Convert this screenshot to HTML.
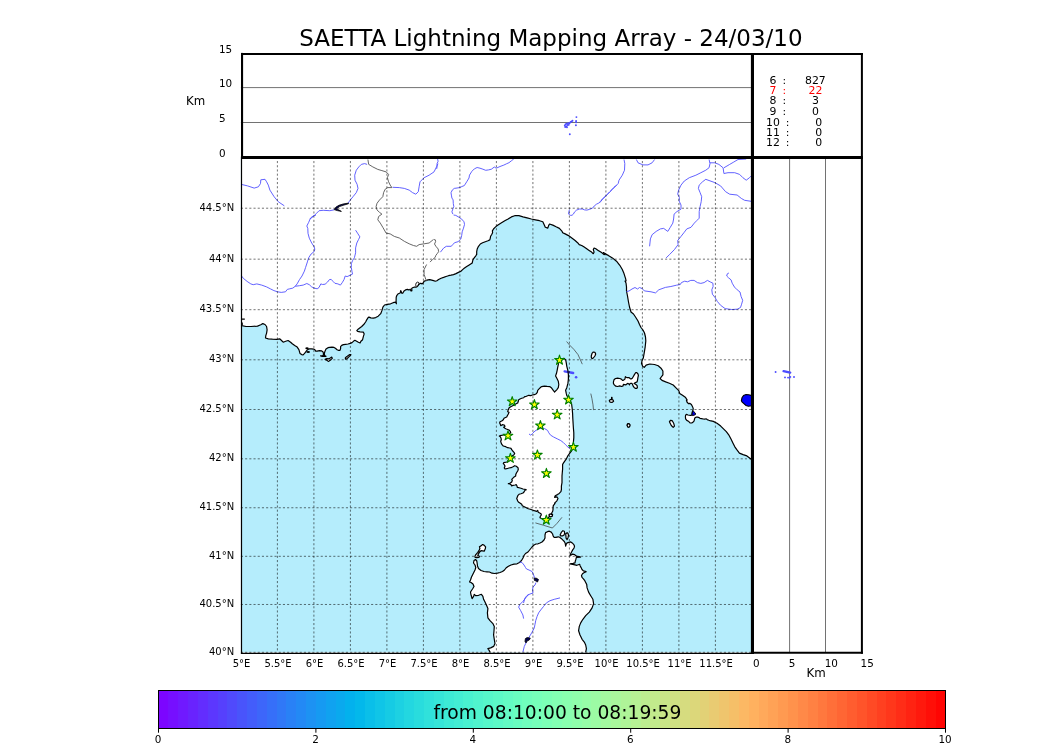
<!DOCTYPE html><html><head><meta charset='utf-8'><style>html,body{margin:0;padding:0;background:#fff;width:1050px;height:750px;overflow:hidden}svg{display:block;will-change:transform}text{font-family:'DejaVu Sans', 'Liberation Sans', sans-serif}</style></head><body>
<svg width='1050' height='750' viewBox='0 0 1050 750'>
<rect width='1050' height='750' fill='#fff'/>
<text x='299.3' y='45.7' font-size='23' fill='#000'>SAETTA Lightning Mapping Array - 24/03/10</text>
<line x1='240.9' x2='752.0' y1='122.50' y2='122.50' stroke='#727272' stroke-width='1'/>
<line x1='240.9' x2='752.0' y1='87.60' y2='87.60' stroke='#727272' stroke-width='1'/>
<text x='219.0' y='157.2' font-size='10.4'>0</text>
<text x='219.0' y='122.3' font-size='10.4'>5</text>
<text x='219.0' y='87.4' font-size='10.4'>10</text>
<text x='219.0' y='52.5' font-size='10.4'>15</text>
<text x='186' y='104.9' font-size='11.8'>Km</text>
<rect x='240.90' y='156.81' width='511.10' height='495.49' fill='#b5edfc'/>
<defs><clipPath id='mc'><rect x='240.90' y='156.81' width='511.10' height='495.49'/></clipPath></defs>
<g clip-path='url(#mc)'>
<path d='M237.9 325.1 L241.0 325.1 L241.8 325.6 L246.0 326.5 L250.9 326.5 L257.5 326.1 L260.8 324.8 L262.8 323.6 L265.0 324.5 L266.6 326.5 L267.1 329.8 L266.6 333.1 L265.8 335.6 L265.5 338.0 L268.3 338.9 L272.4 339.2 L276.6 339.4 L279.9 338.9 L281.5 340.5 L283.2 342.2 L285.7 341.3 L288.1 340.5 L290.6 342.2 L292.3 343.8 L294.7 345.5 L297.2 347.1 L298.9 349.6 L300.0 353.4 L301.7 354.6 L303.1 354.9 L304.3 353.7 L305.4 352.3 L306.3 351.1 L306.9 350.3 L308.0 349.4 L309.1 348.9 L311.4 348.9 L313.7 349.1 L315.1 350.0 L315.7 351.1 L317.1 351.1 L319.4 350.6 L321.7 350.9 L322.9 351.7 L323.4 353.1 L323.5 355.1 L322.6 355.5 L320.6 355.9 L321.7 356.3 L324.0 356.3 L326.0 356.3 L324.6 355.4 L324.3 353.7 L324.9 351.4 L326.0 349.1 L328.0 347.7 L329.7 347.4 L332.0 347.1 L334.0 347.4 L335.4 348.3 L337.1 349.7 L338.3 350.3 L340.0 350.3 L340.6 348.6 L340.6 346.6 L341.7 345.4 L343.4 344.6 L345.7 344.3 L348.0 344.0 L350.3 343.4 L352.0 342.6 L353.7 341.1 L354.9 340.3 L358.4 342.2 L360.1 343.0 L360.9 341.3 L362.6 339.7 L363.4 336.4 L364.2 333.9 L363.4 332.2 L360.1 331.8 L357.6 331.4 L356.8 330.6 L358.4 328.9 L361.7 326.5 L364.2 324.0 L365.9 321.5 L366.7 319.8 L368.3 317.4 L369.0 317.1 L370.8 317.9 L373.3 318.2 L375.7 317.6 L378.2 316.2 L380.7 313.7 L382.0 310.4 L382.9 307.1 L384.5 305.0 L387.3 304.3 L390.6 303.8 L393.1 302.7 L395.6 302.2 L396.4 303.8 L396.1 301.3 L396.2 297.2 L396.9 295.3 L398.3 293.7 L400.2 293.0 L400.7 290.6 L401.4 292.0 L401.9 293.4 L402.9 293.0 L404.0 291.0 L405.5 289.9 L407.4 289.4 L408.8 289.9 L409.8 289.6 L410.2 289.2 L411.0 291.0 L411.9 290.8 L411.7 288.4 L412.6 287.7 L414.0 287.2 L416.0 287.2 L416.9 286.8 L417.9 285.8 L418.8 284.4 L420.2 283.4 L421.2 283.4 L422.1 283.9 L423.1 283.0 L423.6 282.0 L424.5 281.0 L426.0 280.6 L427.9 279.9 L429.8 279.6 L431.7 280.1 L433.6 280.6 L435.3 281.2 L436.9 280.7 L438.6 279.5 L441.1 278.2 L443.6 277.4 L446.0 276.5 L448.5 275.7 L451.0 275.2 L453.5 274.6 L456.0 273.6 L458.4 272.4 L460.9 271.2 L462.6 269.6 L464.2 268.3 L466.7 266.6 L469.2 265.0 L472.2 263.0 L472.6 261.2 L473.1 259.4 L474.4 257.6 L475.8 255.8 L476.7 254.4 L476.7 251.7 L477.2 249.0 L478.5 246.3 L480.3 244.0 L482.6 242.8 L485.3 241.7 L488.0 240.8 L489.8 239.9 L490.3 238.1 L490.6 236.3 L491.7 234.5 L492.6 232.7 L492.4 230.9 L493.5 229.0 L494.8 227.7 L496.2 226.3 L498.0 225.0 L501.5 222.8 L504.8 220.7 L508.1 219.0 L511.4 216.9 L514.7 215.7 L518.9 215.7 L523.0 216.9 L527.1 217.9 L531.3 219.0 L535.4 219.8 L539.5 220.7 L542.8 221.8 L544.2 224.8 L545.3 227.3 L547.8 228.1 L548.6 225.6 L549.5 224.0 L552.8 225.1 L556.1 226.8 L559.4 228.4 L561.9 231.1 L562.7 232.7 L565.2 233.9 L568.5 235.6 L571.8 238.0 L575.1 240.5 L577.6 242.7 L579.2 244.6 L581.7 245.5 L584.2 247.1 L586.7 248.8 L589.1 250.4 L591.6 252.1 L593.3 253.7 L594.1 252.1 L593.3 249.6 L594.1 248.0 L595.8 248.8 L598.2 250.4 L601.6 252.6 L604.0 254.6 L605.7 253.7 L603.3 252.6 L605.0 253.7 L608.3 255.4 L612.4 257.9 L616.5 261.2 L619.8 265.3 L622.3 269.5 L624.0 273.6 L625.6 278.6 L626.1 281.0 L625.0 281.0 L626.0 283.0 L626.5 287.0 L626.5 291.0 L627.5 296.0 L628.5 302.0 L629.5 307.0 L631.0 312.0 L633.5 314.0 L635.5 317.0 L638.0 321.0 L639.5 324.5 L641.0 327.5 L643.0 330.0 L644.5 333.0 L645.5 337.0 L645.8 341.0 L645.2 346.8 L644.3 352.4 L643.3 358.0 L642.0 360.8 L641.5 363.6 L642.8 366.4 L644.3 367.3 L646.1 365.1 L649.8 364.0 L654.5 364.5 L658.2 365.8 L661.0 368.2 L662.9 371.0 L662.9 374.8 L660.1 378.5 L662.0 380.4 L665.7 381.9 L669.4 383.2 L673.2 385.0 L676.0 387.8 L678.8 390.6 L679.7 393.4 L682.5 395.3 L685.3 397.2 L687.2 400.0 L686.4 400.0 L687.0 402.0 L688.4 403.6 L690.0 403.4 L691.4 404.4 L692.4 406.4 L693.2 408.4 L693.0 410.0 L692.4 411.6 L692.0 413.6 L691.8 415.2 L690.4 415.4 L688.0 415.0 L686.4 414.4 L685.6 415.2 L685.4 416.8 L685.6 418.8 L686.8 420.4 L688.4 421.2 L690.0 422.8 L691.6 423.0 L692.8 422.4 L694.0 421.2 L694.4 419.6 L694.8 418.0 L696.0 417.2 L697.6 417.2 L699.2 417.6 L700.0 418.4 L701.6 418.6 L703.2 419.0 L704.8 419.2 L706.0 418.8 L707.2 419.6 L708.8 420.2 L710.0 420.6 L713.3 421.4 L717.0 423.3 L720.7 426.1 L723.5 428.9 L726.3 431.7 L729.1 435.4 L731.0 439.1 L732.9 442.9 L734.7 446.6 L736.6 449.4 L739.4 453.1 L743.1 454.6 L746.9 455.9 L750.6 458.7 L754.3 461.5 L755.0 461.5 L755.0 153.8 L237.9 153.8Z' fill='#fff' stroke='none'/>
<path d='M613.4 382.2 L614.0 379.8 L615.5 378.5 L617.6 378.2 L619.8 378.5 L621.3 379.1 L622.5 380.4 L623.7 380.1 L624.9 379.1 L625.4 376.7 L626.2 377.3 L627.1 377.6 L628.9 377.6 L630.1 378.5 L631.0 379.1 L632.3 378.2 L633.2 376.7 L634.4 374.6 L635.6 372.7 L636.8 372.7 L638.0 374.0 L638.4 375.5 L637.9 377.6 L637.6 379.8 L637.1 381.9 L635.0 382.8 L634.1 383.4 L635.6 384.3 L637.1 385.5 L637.4 387.4 L636.8 388.3 L635.3 388.3 L634.1 387.4 L633.2 386.2 L632.6 384.6 L632.0 383.4 L630.7 383.4 L629.8 383.7 L629.5 384.9 L628.9 384.0 L628.0 383.4 L626.8 384.0 L625.9 384.9 L624.6 384.6 L623.4 384.3 L623.1 385.9 L621.6 386.5 L619.8 385.9 L617.6 386.5 L615.8 386.2 L614.3 384.9 L613.5 383.7ZM591.3 356.0 L592.0 353.3 L593.3 352.0 L594.9 352.3 L595.7 354.0 L594.9 356.0 L593.3 358.0 L592.0 358.7 L591.3 357.3ZM609.3 400.7 L610.4 399.5 L611.5 399.6 L611.6 397.3 L612.0 397.3 L612.1 399.6 L613.1 400.0 L613.6 401.3 L612.0 402.4 L610.0 402.1ZM626.9 425.3 L627.6 423.7 L629.1 423.6 L630.1 424.9 L629.6 426.9 L628.0 427.3ZM669.4 421.8 L670.4 420.3 L672.2 420.7 L673.7 423.3 L674.5 426.1 L673.2 427.4 L671.3 425.5ZM627.1 425.5 L627.8 423.8 L629.3 423.8 L630.1 425.5 L629.3 427.0 L627.8 427.0ZM325.1 359.4 L326.9 358.6 L328.6 358.9 L330.3 358.0 L331.7 357.1 L332.3 358.3 L330.9 359.7 L329.1 360.9 L328.3 361.4 L326.9 360.3 L325.7 359.7ZM345.4 359.1 L345.4 357.7 L346.9 356.6 L348.3 355.4 L349.7 354.6 L350.9 354.6 L350.6 355.4 L349.1 356.6 L347.7 358.0 L346.3 359.1ZM564.1 358.3 L560.9 358.9 L558.8 362.1 L558.3 364.7 L557.7 367.4 L557.2 370.1 L556.5 373.3 L555.6 375.9 L556.7 378.1 L558.3 381.3 L558.8 384.5 L558.3 387.7 L556.7 389.8 L554.5 392.0 L552.9 389.8 L551.3 387.7 L549.7 386.6 L547.1 386.4 L544.4 386.1 L541.7 386.6 L541.0 387.0 L539.3 388.7 L537.7 390.3 L537.3 392.3 L536.3 393.7 L534.3 394.7 L532.3 395.0 L530.7 395.7 L528.7 395.3 L527.7 395.7 L526.3 396.3 L524.7 396.7 L523.7 397.7 L521.7 398.3 L520.0 399.0 L518.7 399.7 L518.3 401.3 L517.7 403.0 L515.7 404.0 L513.7 405.3 L511.7 406.3 L510.3 407.0 L509.0 408.0 L508.3 409.7 L507.7 411.7 L509.0 412.3 L508.3 414.0 L507.3 415.7 L506.7 417.0 L505.0 417.7 L504.0 418.3 L503.3 419.7 L501.7 421.0 L500.0 421.7 L499.7 423.0 L500.3 424.3 L500.7 425.7 L502.3 424.7 L504.3 425.0 L505.0 426.3 L503.7 427.3 L505.0 428.3 L506.3 429.0 L509.0 430.0 L510.3 431.3 L510.7 432.7 L508.3 434.3 L503.7 435.0 L500.0 435.7 L499.3 436.0 L500.3 436.7 L501.0 438.0 L501.3 439.7 L500.7 441.3 L501.3 443.3 L502.0 444.7 L503.3 446.0 L505.7 446.7 L507.7 447.7 L509.7 448.0 L511.0 448.3 L511.7 449.7 L512.7 451.0 L514.0 452.3 L514.7 453.7 L513.7 455.0 L512.0 456.0 L509.3 459.3 L507.0 462.0 L503.7 462.7 L503.3 463.7 L504.3 464.7 L505.0 466.0 L504.3 468.0 L505.0 469.0 L506.7 468.7 L509.0 468.0 L511.0 467.7 L513.0 466.7 L514.7 465.7 L516.3 466.3 L518.0 467.7 L518.3 469.3 L517.7 471.0 L517.0 472.0 L516.3 473.3 L515.7 474.7 L515.7 476.0 L513.7 477.3 L512.7 478.3 L511.7 479.3 L512.3 480.3 L511.7 482.0 L510.3 483.0 L508.3 483.7 L510.0 484.0 L511.3 485.0 L511.7 486.0 L513.0 485.3 L515.0 485.0 L516.3 484.7 L517.0 486.0 L517.3 487.3 L519.0 487.7 L521.0 488.3 L523.0 489.0 L525.0 489.3 L526.3 489.7 L525.0 490.3 L524.0 492.0 L523.0 493.0 L521.0 493.7 L519.0 494.3 L518.0 495.3 L517.3 497.0 L516.7 498.7 L517.3 499.7 L517.7 501.0 L518.7 502.3 L520.3 503.3 L521.7 504.3 L522.3 505.7 L524.3 506.7 L526.3 507.7 L528.3 508.7 L530.3 509.3 L532.3 510.0 L534.3 510.7 L536.7 511.3 L537.7 510.3 L538.3 512.3 L539.7 513.0 L541.0 513.7 L541.3 515.0 L540.3 516.3 L540.0 517.7 L541.0 518.3 L542.3 518.7 L544.3 519.7 L546.3 519.3 L548.3 517.7 L549.3 516.7 L549.0 514.7 L550.3 514.0 L552.0 514.7 L551.7 513.0 L552.7 511.3 L553.0 509.7 L553.0 507.7 L553.3 505.7 L554.3 504.3 L555.0 503.3 L554.6 503.1 L556.9 500.8 L558.0 498.5 L556.9 496.8 L554.6 497.4 L555.2 495.7 L557.5 494.6 L559.2 493.4 L560.9 491.7 L561.4 489.5 L561.4 486.1 L562.0 482.7 L562.0 479.3 L562.0 475.9 L562.3 472.5 L562.6 469.1 L562.6 464.5 L563.2 463.4 L564.4 461.6 L566.2 459.2 L568.0 455.6 L569.8 453.2 L571.6 450.8 L572.8 447.2 L573.4 442.4 L573.8 437.6 L573.8 432.8 L573.4 428.0 L573.1 423.2 L572.8 418.4 L572.6 413.6 L572.2 408.8 L571.6 404.0 L570.4 401.0 L568.6 398.0 L566.8 395.6 L566.2 393.2 L565.6 390.2 L566.8 387.7 L567.9 383.4 L568.4 379.1 L568.4 374.9 L567.9 370.6 L566.8 366.3 L566.3 363.1 L565.7 359.9ZM490.0 653.6 L490.0 652.1 L489.3 650.7 L487.9 648.6 L490.7 647.9 L493.6 646.4 L495.0 643.6 L494.3 639.3 L493.6 635.0 L494.0 630.7 L494.3 626.4 L492.9 623.6 L490.0 620.7 L487.9 617.9 L487.4 612.9 L487.9 608.6 L486.4 605.0 L485.0 602.1 L483.6 599.3 L482.9 596.4 L481.4 594.3 L478.6 595.3 L475.7 595.7 L474.3 594.3 L473.6 596.4 L472.1 598.6 L471.1 595.0 L471.0 595.0 L470.5 592.0 L472.5 589.0 L474.0 586.5 L473.0 584.0 L471.0 582.5 L469.5 582.0 L470.5 580.0 L471.5 577.0 L473.0 574.0 L475.0 570.0 L475.8 567.5 L475.0 565.0 L473.5 563.0 L474.0 560.5 L475.5 559.5 L476.8 561.0 L477.2 563.5 L477.5 566.0 L478.5 568.5 L481.0 570.5 L484.0 571.5 L487.0 571.8 L489.5 572.0 L492.0 573.2 L494.5 573.5 L497.5 573.2 L500.0 572.5 L502.5 571.5 L504.5 570.0 L506.0 568.0 L508.0 566.5 L511.0 565.0 L514.0 564.2 L517.0 563.8 L519.5 562.5 L521.5 560.5 L523.0 558.0 L524.0 555.5 L525.5 553.5 L528.0 552.0 L530.0 549.5 L532.0 547.0 L534.0 545.0 L536.0 544.0 L538.0 543.8 L540.0 543.0 L542.0 542.0 L544.0 540.0 L545.0 538.0 L545.0 535.0 L545.6 532.6 L547.5 531.7 L549.3 531.2 L551.2 532.1 L552.6 534.0 L553.1 535.9 L554.0 537.3 L555.9 537.3 L558.2 536.8 L559.6 537.3 L561.5 538.7 L562.9 540.1 L564.3 541.5 L565.2 543.3 L565.7 546.1 L566.1 544.3 L567.1 542.9 L568.9 542.4 L570.8 541.9 L572.2 542.9 L573.6 544.3 L574.5 546.1 L574.1 548.0 L572.7 549.9 L571.7 551.7 L570.8 553.6 L569.9 555.5 L571.3 555.0 L572.7 554.1 L574.5 554.5 L575.9 555.9 L577.3 556.4 L579.2 556.6 L580.6 557.1 L576.4 557.3 L575.9 559.2 L575.3 561.1 L575.0 562.9 L573.1 563.4 L569.9 563.9 L572.7 564.3 L575.0 564.8 L576.9 565.3 L578.3 564.8 L579.7 564.3 L580.1 565.7 L581.1 567.6 L582.0 569.5 L583.4 570.9 L585.3 571.3 L586.2 571.8 L583.9 572.7 L582.5 573.7 L581.5 575.5 L582.0 577.4 L583.4 578.8 L584.8 580.7 L585.7 582.5 L586.7 584.4 L587.1 587.9 L588.6 592.1 L590.7 595.7 L592.9 599.3 L593.6 603.6 L592.1 607.9 L589.3 612.1 L585.7 615.7 L582.9 619.3 L580.7 622.9 L579.3 626.4 L578.6 630.7 L580.0 635.0 L582.1 639.3 L584.3 642.1 L585.7 645.0 L586.4 648.6 L585.7 652.1 L585.7 653.6 L585.7 657.3 L490.0 657.3ZM474.9 556.6 L475.4 555.2 L476.5 553.9 L477.8 552.3 L479.1 550.4 L479.9 548.5 L479.4 546.7 L481.0 545.9 L482.6 544.5 L484.0 545.1 L485.6 546.9 L485.3 548.8 L484.2 551.2 L482.6 550.9 L481.0 550.7 L479.9 551.7 L478.6 553.6 L477.8 555.5 L479.4 556.3 L478.9 557.4 L476.7 557.6 L475.1 557.4ZM560.1 534.9 L561.5 532.1 L562.9 530.7 L564.3 531.2 L564.7 533.1 L564.1 534.9 L562.4 535.9 L560.5 535.9ZM565.7 534.0 L567.1 532.6 L568.0 533.5 L568.5 535.4 L568.0 537.7 L567.1 539.6 L566.1 538.2 L565.9 535.9ZM549.2 514.3 L551.0 513.8 L552.6 514.6 L552.2 516.4 L550.2 516.9 L549.2 515.8Z' fill='#fff' stroke='none'/>
<path d='M564.6 371.3 L573.2 373.0' stroke='#4c4cff' stroke-width='2.3' stroke-linecap='round' fill='none'/>
<circle cx='576.1' cy='377.3' r='1.3' fill='#4c4cff'/>
<path d='M613.4 382.2 L614.0 379.8 L615.5 378.5 L617.6 378.2 L619.8 378.5 L621.3 379.1 L622.5 380.4 L623.7 380.1 L624.9 379.1 L625.4 376.7 L626.2 377.3 L627.1 377.6 L628.9 377.6 L630.1 378.5 L631.0 379.1 L632.3 378.2 L633.2 376.7 L634.4 374.6 L635.6 372.7 L636.8 372.7 L638.0 374.0 L638.4 375.5 L637.9 377.6 L637.6 379.8 L637.1 381.9 L635.0 382.8 L634.1 383.4 L635.6 384.3 L637.1 385.5 L637.4 387.4 L636.8 388.3 L635.3 388.3 L634.1 387.4 L633.2 386.2 L632.6 384.6 L632.0 383.4 L630.7 383.4 L629.8 383.7 L629.5 384.9 L628.9 384.0 L628.0 383.4 L626.8 384.0 L625.9 384.9 L624.6 384.6 L623.4 384.3 L623.1 385.9 L621.6 386.5 L619.8 385.9 L617.6 386.5 L615.8 386.2 L614.3 384.9 L613.5 383.7ZM591.3 356.0 L592.0 353.3 L593.3 352.0 L594.9 352.3 L595.7 354.0 L594.9 356.0 L593.3 358.0 L592.0 358.7 L591.3 357.3ZM609.3 400.7 L610.4 399.5 L611.5 399.6 L611.6 397.3 L612.0 397.3 L612.1 399.6 L613.1 400.0 L613.6 401.3 L612.0 402.4 L610.0 402.1ZM626.9 425.3 L627.6 423.7 L629.1 423.6 L630.1 424.9 L629.6 426.9 L628.0 427.3ZM669.4 421.8 L670.4 420.3 L672.2 420.7 L673.7 423.3 L674.5 426.1 L673.2 427.4 L671.3 425.5ZM627.1 425.5 L627.8 423.8 L629.3 423.8 L630.1 425.5 L629.3 427.0 L627.8 427.0ZM325.1 359.4 L326.9 358.6 L328.6 358.9 L330.3 358.0 L331.7 357.1 L332.3 358.3 L330.9 359.7 L329.1 360.9 L328.3 361.4 L326.9 360.3 L325.7 359.7ZM345.4 359.1 L345.4 357.7 L346.9 356.6 L348.3 355.4 L349.7 354.6 L350.9 354.6 L350.6 355.4 L349.1 356.6 L347.7 358.0 L346.3 359.1ZM564.1 358.3 L560.9 358.9 L558.8 362.1 L558.3 364.7 L557.7 367.4 L557.2 370.1 L556.5 373.3 L555.6 375.9 L556.7 378.1 L558.3 381.3 L558.8 384.5 L558.3 387.7 L556.7 389.8 L554.5 392.0 L552.9 389.8 L551.3 387.7 L549.7 386.6 L547.1 386.4 L544.4 386.1 L541.7 386.6 L541.0 387.0 L539.3 388.7 L537.7 390.3 L537.3 392.3 L536.3 393.7 L534.3 394.7 L532.3 395.0 L530.7 395.7 L528.7 395.3 L527.7 395.7 L526.3 396.3 L524.7 396.7 L523.7 397.7 L521.7 398.3 L520.0 399.0 L518.7 399.7 L518.3 401.3 L517.7 403.0 L515.7 404.0 L513.7 405.3 L511.7 406.3 L510.3 407.0 L509.0 408.0 L508.3 409.7 L507.7 411.7 L509.0 412.3 L508.3 414.0 L507.3 415.7 L506.7 417.0 L505.0 417.7 L504.0 418.3 L503.3 419.7 L501.7 421.0 L500.0 421.7 L499.7 423.0 L500.3 424.3 L500.7 425.7 L502.3 424.7 L504.3 425.0 L505.0 426.3 L503.7 427.3 L505.0 428.3 L506.3 429.0 L509.0 430.0 L510.3 431.3 L510.7 432.7 L508.3 434.3 L503.7 435.0 L500.0 435.7 L499.3 436.0 L500.3 436.7 L501.0 438.0 L501.3 439.7 L500.7 441.3 L501.3 443.3 L502.0 444.7 L503.3 446.0 L505.7 446.7 L507.7 447.7 L509.7 448.0 L511.0 448.3 L511.7 449.7 L512.7 451.0 L514.0 452.3 L514.7 453.7 L513.7 455.0 L512.0 456.0 L509.3 459.3 L507.0 462.0 L503.7 462.7 L503.3 463.7 L504.3 464.7 L505.0 466.0 L504.3 468.0 L505.0 469.0 L506.7 468.7 L509.0 468.0 L511.0 467.7 L513.0 466.7 L514.7 465.7 L516.3 466.3 L518.0 467.7 L518.3 469.3 L517.7 471.0 L517.0 472.0 L516.3 473.3 L515.7 474.7 L515.7 476.0 L513.7 477.3 L512.7 478.3 L511.7 479.3 L512.3 480.3 L511.7 482.0 L510.3 483.0 L508.3 483.7 L510.0 484.0 L511.3 485.0 L511.7 486.0 L513.0 485.3 L515.0 485.0 L516.3 484.7 L517.0 486.0 L517.3 487.3 L519.0 487.7 L521.0 488.3 L523.0 489.0 L525.0 489.3 L526.3 489.7 L525.0 490.3 L524.0 492.0 L523.0 493.0 L521.0 493.7 L519.0 494.3 L518.0 495.3 L517.3 497.0 L516.7 498.7 L517.3 499.7 L517.7 501.0 L518.7 502.3 L520.3 503.3 L521.7 504.3 L522.3 505.7 L524.3 506.7 L526.3 507.7 L528.3 508.7 L530.3 509.3 L532.3 510.0 L534.3 510.7 L536.7 511.3 L537.7 510.3 L538.3 512.3 L539.7 513.0 L541.0 513.7 L541.3 515.0 L540.3 516.3 L540.0 517.7 L541.0 518.3 L542.3 518.7 L544.3 519.7 L546.3 519.3 L548.3 517.7 L549.3 516.7 L549.0 514.7 L550.3 514.0 L552.0 514.7 L551.7 513.0 L552.7 511.3 L553.0 509.7 L553.0 507.7 L553.3 505.7 L554.3 504.3 L555.0 503.3 L554.6 503.1 L556.9 500.8 L558.0 498.5 L556.9 496.8 L554.6 497.4 L555.2 495.7 L557.5 494.6 L559.2 493.4 L560.9 491.7 L561.4 489.5 L561.4 486.1 L562.0 482.7 L562.0 479.3 L562.0 475.9 L562.3 472.5 L562.6 469.1 L562.6 464.5 L563.2 463.4 L564.4 461.6 L566.2 459.2 L568.0 455.6 L569.8 453.2 L571.6 450.8 L572.8 447.2 L573.4 442.4 L573.8 437.6 L573.8 432.8 L573.4 428.0 L573.1 423.2 L572.8 418.4 L572.6 413.6 L572.2 408.8 L571.6 404.0 L570.4 401.0 L568.6 398.0 L566.8 395.6 L566.2 393.2 L565.6 390.2 L566.8 387.7 L567.9 383.4 L568.4 379.1 L568.4 374.9 L567.9 370.6 L566.8 366.3 L566.3 363.1 L565.7 359.9ZM490.0 653.6 L490.0 652.1 L489.3 650.7 L487.9 648.6 L490.7 647.9 L493.6 646.4 L495.0 643.6 L494.3 639.3 L493.6 635.0 L494.0 630.7 L494.3 626.4 L492.9 623.6 L490.0 620.7 L487.9 617.9 L487.4 612.9 L487.9 608.6 L486.4 605.0 L485.0 602.1 L483.6 599.3 L482.9 596.4 L481.4 594.3 L478.6 595.3 L475.7 595.7 L474.3 594.3 L473.6 596.4 L472.1 598.6 L471.1 595.0 L471.0 595.0 L470.5 592.0 L472.5 589.0 L474.0 586.5 L473.0 584.0 L471.0 582.5 L469.5 582.0 L470.5 580.0 L471.5 577.0 L473.0 574.0 L475.0 570.0 L475.8 567.5 L475.0 565.0 L473.5 563.0 L474.0 560.5 L475.5 559.5 L476.8 561.0 L477.2 563.5 L477.5 566.0 L478.5 568.5 L481.0 570.5 L484.0 571.5 L487.0 571.8 L489.5 572.0 L492.0 573.2 L494.5 573.5 L497.5 573.2 L500.0 572.5 L502.5 571.5 L504.5 570.0 L506.0 568.0 L508.0 566.5 L511.0 565.0 L514.0 564.2 L517.0 563.8 L519.5 562.5 L521.5 560.5 L523.0 558.0 L524.0 555.5 L525.5 553.5 L528.0 552.0 L530.0 549.5 L532.0 547.0 L534.0 545.0 L536.0 544.0 L538.0 543.8 L540.0 543.0 L542.0 542.0 L544.0 540.0 L545.0 538.0 L545.0 535.0 L545.6 532.6 L547.5 531.7 L549.3 531.2 L551.2 532.1 L552.6 534.0 L553.1 535.9 L554.0 537.3 L555.9 537.3 L558.2 536.8 L559.6 537.3 L561.5 538.7 L562.9 540.1 L564.3 541.5 L565.2 543.3 L565.7 546.1 L566.1 544.3 L567.1 542.9 L568.9 542.4 L570.8 541.9 L572.2 542.9 L573.6 544.3 L574.5 546.1 L574.1 548.0 L572.7 549.9 L571.7 551.7 L570.8 553.6 L569.9 555.5 L571.3 555.0 L572.7 554.1 L574.5 554.5 L575.9 555.9 L577.3 556.4 L579.2 556.6 L580.6 557.1 L576.4 557.3 L575.9 559.2 L575.3 561.1 L575.0 562.9 L573.1 563.4 L569.9 563.9 L572.7 564.3 L575.0 564.8 L576.9 565.3 L578.3 564.8 L579.7 564.3 L580.1 565.7 L581.1 567.6 L582.0 569.5 L583.4 570.9 L585.3 571.3 L586.2 571.8 L583.9 572.7 L582.5 573.7 L581.5 575.5 L582.0 577.4 L583.4 578.8 L584.8 580.7 L585.7 582.5 L586.7 584.4 L587.1 587.9 L588.6 592.1 L590.7 595.7 L592.9 599.3 L593.6 603.6 L592.1 607.9 L589.3 612.1 L585.7 615.7 L582.9 619.3 L580.7 622.9 L579.3 626.4 L578.6 630.7 L580.0 635.0 L582.1 639.3 L584.3 642.1 L585.7 645.0 L586.4 648.6 L585.7 652.1 L585.7 653.6 L585.7 657.3 L490.0 657.3ZM474.9 556.6 L475.4 555.2 L476.5 553.9 L477.8 552.3 L479.1 550.4 L479.9 548.5 L479.4 546.7 L481.0 545.9 L482.6 544.5 L484.0 545.1 L485.6 546.9 L485.3 548.8 L484.2 551.2 L482.6 550.9 L481.0 550.7 L479.9 551.7 L478.6 553.6 L477.8 555.5 L479.4 556.3 L478.9 557.4 L476.7 557.6 L475.1 557.4ZM560.1 534.9 L561.5 532.1 L562.9 530.7 L564.3 531.2 L564.7 533.1 L564.1 534.9 L562.4 535.9 L560.5 535.9ZM565.7 534.0 L567.1 532.6 L568.0 533.5 L568.5 535.4 L568.0 537.7 L567.1 539.6 L566.1 538.2 L565.9 535.9ZM549.2 514.3 L551.0 513.8 L552.6 514.6 L552.2 516.4 L550.2 516.9 L549.2 515.8Z' fill='none' stroke='#000' stroke-width='1.2' stroke-linejoin='round'/>
<path d='M241.0 325.1 L241.8 325.6 L246.0 326.5 L250.9 326.5 L257.5 326.1 L260.8 324.8 L262.8 323.6 L265.0 324.5 L266.6 326.5 L267.1 329.8 L266.6 333.1 L265.8 335.6 L265.5 338.0 L268.3 338.9 L272.4 339.2 L276.6 339.4 L279.9 338.9 L281.5 340.5 L283.2 342.2 L285.7 341.3 L288.1 340.5 L290.6 342.2 L292.3 343.8 L294.7 345.5 L297.2 347.1 L298.9 349.6 L300.0 353.4 L301.7 354.6 L303.1 354.9 L304.3 353.7 L305.4 352.3 L306.3 351.1 L306.9 350.3 L308.0 349.4 L309.1 348.9 L311.4 348.9 L313.7 349.1 L315.1 350.0 L315.7 351.1 L317.1 351.1 L319.4 350.6 L321.7 350.9 L322.9 351.7 L323.4 353.1 L323.5 355.1 L322.6 355.5 L320.6 355.9 L321.7 356.3 L324.0 356.3 L326.0 356.3 L324.6 355.4 L324.3 353.7 L324.9 351.4 L326.0 349.1 L328.0 347.7 L329.7 347.4 L332.0 347.1 L334.0 347.4 L335.4 348.3 L337.1 349.7 L338.3 350.3 L340.0 350.3 L340.6 348.6 L340.6 346.6 L341.7 345.4 L343.4 344.6 L345.7 344.3 L348.0 344.0 L350.3 343.4 L352.0 342.6 L353.7 341.1 L354.9 340.3 L358.4 342.2 L360.1 343.0 L360.9 341.3 L362.6 339.7 L363.4 336.4 L364.2 333.9 L363.4 332.2 L360.1 331.8 L357.6 331.4 L356.8 330.6 L358.4 328.9 L361.7 326.5 L364.2 324.0 L365.9 321.5 L366.7 319.8 L368.3 317.4 L369.0 317.1 L370.8 317.9 L373.3 318.2 L375.7 317.6 L378.2 316.2 L380.7 313.7 L382.0 310.4 L382.9 307.1 L384.5 305.0 L387.3 304.3 L390.6 303.8 L393.1 302.7 L395.6 302.2 L396.4 303.8 L396.1 301.3 L396.2 297.2 L396.9 295.3 L398.3 293.7 L400.2 293.0 L400.7 290.6 L401.4 292.0 L401.9 293.4 L402.9 293.0 L404.0 291.0 L405.5 289.9 L407.4 289.4 L408.8 289.9 L409.8 289.6 L410.2 289.2 L411.0 291.0 L411.9 290.8 L411.7 288.4 L412.6 287.7 L414.0 287.2 L416.0 287.2 L416.9 286.8 L417.9 285.8 L418.8 284.4 L420.2 283.4 L421.2 283.4 L422.1 283.9 L423.1 283.0 L423.6 282.0 L424.5 281.0 L426.0 280.6 L427.9 279.9 L429.8 279.6 L431.7 280.1 L433.6 280.6 L435.3 281.2 L436.9 280.7 L438.6 279.5 L441.1 278.2 L443.6 277.4 L446.0 276.5 L448.5 275.7 L451.0 275.2 L453.5 274.6 L456.0 273.6 L458.4 272.4 L460.9 271.2 L462.6 269.6 L464.2 268.3 L466.7 266.6 L469.2 265.0 L472.2 263.0 L472.6 261.2 L473.1 259.4 L474.4 257.6 L475.8 255.8 L476.7 254.4 L476.7 251.7 L477.2 249.0 L478.5 246.3 L480.3 244.0 L482.6 242.8 L485.3 241.7 L488.0 240.8 L489.8 239.9 L490.3 238.1 L490.6 236.3 L491.7 234.5 L492.6 232.7 L492.4 230.9 L493.5 229.0 L494.8 227.7 L496.2 226.3 L498.0 225.0 L501.5 222.8 L504.8 220.7 L508.1 219.0 L511.4 216.9 L514.7 215.7 L518.9 215.7 L523.0 216.9 L527.1 217.9 L531.3 219.0 L535.4 219.8 L539.5 220.7 L542.8 221.8 L544.2 224.8 L545.3 227.3 L547.8 228.1 L548.6 225.6 L549.5 224.0 L552.8 225.1 L556.1 226.8 L559.4 228.4 L561.9 231.1 L562.7 232.7 L565.2 233.9 L568.5 235.6 L571.8 238.0 L575.1 240.5 L577.6 242.7 L579.2 244.6 L581.7 245.5 L584.2 247.1 L586.7 248.8 L589.1 250.4 L591.6 252.1 L593.3 253.7 L594.1 252.1 L593.3 249.6 L594.1 248.0 L595.8 248.8 L598.2 250.4 L601.6 252.6 L604.0 254.6 L605.7 253.7 L603.3 252.6 L605.0 253.7 L608.3 255.4 L612.4 257.9 L616.5 261.2 L619.8 265.3 L622.3 269.5 L624.0 273.6 L625.6 278.6 L626.1 281.0 L625.0 281.0 L626.0 283.0 L626.5 287.0 L626.5 291.0 L627.5 296.0 L628.5 302.0 L629.5 307.0 L631.0 312.0 L633.5 314.0 L635.5 317.0 L638.0 321.0 L639.5 324.5 L641.0 327.5 L643.0 330.0 L644.5 333.0 L645.5 337.0 L645.8 341.0 L645.2 346.8 L644.3 352.4 L643.3 358.0 L642.0 360.8 L641.5 363.6 L642.8 366.4 L644.3 367.3 L646.1 365.1 L649.8 364.0 L654.5 364.5 L658.2 365.8 L661.0 368.2 L662.9 371.0 L662.9 374.8 L660.1 378.5 L662.0 380.4 L665.7 381.9 L669.4 383.2 L673.2 385.0 L676.0 387.8 L678.8 390.6 L679.7 393.4 L682.5 395.3 L685.3 397.2 L687.2 400.0 L686.4 400.0 L687.0 402.0 L688.4 403.6 L690.0 403.4 L691.4 404.4 L692.4 406.4 L693.2 408.4 L693.0 410.0 L692.4 411.6 L692.0 413.6 L691.8 415.2 L690.4 415.4 L688.0 415.0 L686.4 414.4 L685.6 415.2 L685.4 416.8 L685.6 418.8 L686.8 420.4 L688.4 421.2 L690.0 422.8 L691.6 423.0 L692.8 422.4 L694.0 421.2 L694.4 419.6 L694.8 418.0 L696.0 417.2 L697.6 417.2 L699.2 417.6 L700.0 418.4 L701.6 418.6 L703.2 419.0 L704.8 419.2 L706.0 418.8 L707.2 419.6 L708.8 420.2 L710.0 420.6 L713.3 421.4 L717.0 423.3 L720.7 426.1 L723.5 428.9 L726.3 431.7 L729.1 435.4 L731.0 439.1 L732.9 442.9 L734.7 446.6 L736.6 449.4 L739.4 453.1 L743.1 454.6 L746.9 455.9 L750.6 458.7 L754.3 461.5' fill='none' stroke='#000' stroke-width='1.2' stroke-linejoin='round'/>
<path d='M241.0 184.3 L247.6 185.9 L254.2 188.1 L258.4 186.8 L260.5 183.5 L260.8 179.8 L265.0 179.3 L266.6 181.8 L268.3 185.1 L269.9 190.1 L274.1 196.7 L278.2 201.7 L284.3 205.8M453.6 215.0 L455.8 215.4 L459.0 217.3 L461.7 219.1 L464.0 221.8 L464.5 224.5 L463.5 228.1 L462.2 231.8 L461.7 235.4 L460.8 239.0 L458.1 241.7 L454.9 242.6 L452.7 244.5 L451.3 246.3 L446.3 246.3 L443.6 248.1 L440.4 252.2M624.0 159.5 L624.8 163.6 L624.5 170.2 L622.3 175.2 L619.0 180.2 L618.2 183.5 L614.9 186.8 L609.9 191.7 L605.0 196.7 L600.0 201.7M636.4 159.5 L638.0 162.8 L643.0 164.9 L648.0 164.9 L652.1 162.8 L654.6 159.5M709.1 159.5 L710.0 163.6 L709.1 167.7 L705.8 170.2 L700.9 172.7 L695.9 175.2 L689.3 177.7 L684.3 181.0 L681.0 185.1 L678.6 190.1 L677.7 194.2 L679.4 197.5 L679.0 200.8 L681.0 205.0 L681.0 209.1 L676.9 211.6 L674.1 214.1 L673.6 219.0 L672.8 223.1 L670.3 227.3 L667.8 231.4 L663.7 228.4 L660.4 228.9 L656.2 231.4 L652.1 234.7 L650.4 238.9 L649.6 246.3M705.8 179.3 L702.5 181.8 L699.2 185.1 L698.4 188.4 L700.1 192.6 L701.7 196.7 L701.2 201.7 L700.1 206.6 L699.2 211.6 L699.2 218.2 L696.7 220.7 L694.3 223.1 L691.0 227.3 L686.8 228.9 L684.3 232.2 L681.0 236.4 L677.7 240.5 L678.1 244.6 L674.4 249.6 L669.5 254.6 L666.1 257.9M709.8 162.8 L714.8 162.8 L718.9 164.4 L723.1 167.8 L723.9 173.5 L728.0 172.7 L734.7 172.7 L739.6 174.4 L742.9 177.7 L746.2 180.2 L749.5 177.7 L751.2 176.0M723.9 167.8 L729.7 164.4 L733.8 162.0 L738.0 159.5 L746.2 159.0M705.7 179.3 L714.8 182.6 L720.6 185.9 L725.6 191.7 L729.7 194.2 L737.1 195.0 L741.3 198.4 L744.6 200.3 L751.2 201.3M367.1 164.4 L364.6 163.6 L361.3 164.4 L358.8 166.9 L356.3 170.2 L354.7 175.2 L355.0 180.2 L357.1 184.3 L358.0 188.4 L356.3 192.6 L353.0 196.7 L349.7 200.8 L348.0 203.3M334.0 209.9 L329.8 210.7 L323.2 210.3 L319.1 210.7 L316.6 213.2 L313.3 216.5 L310.0 219.0M438.0 163.6 L436.5 166.9 L434.0 171.9 L429.1 175.2 L424.1 177.7 L420.0 181.8 L419.1 186.8 L418.3 191.7 L415.8 194.2 L412.5 192.6 L409.2 190.1 L404.3 188.4 L399.3 187.6 L392.7 187.3M316.0 215.0 L312.9 216.2 L310.5 218.0 L308.7 222.3 L306.8 226.0 L307.8 228.4 L308.0 233.3 L309.3 238.2 L311.7 243.0 L314.1 246.7 L314.8 249.1 L314.1 251.6 L311.1 254.0 L308.7 257.7 L307.4 261.9 L305.6 267.4 L304.4 271.1 L302.0 276.0 L299.5 279.6 L297.1 283.9 L295.2 286.3 L292.8 288.1 L289.8 288.8 L287.3 289.4 L285.5 291.8 L281.2 292.4 L277.6 291.8 L273.9 290.6 L270.3 288.8 L266.6 286.9 L261.7 285.1 L256.8 283.9 L253.2 284.7 L250.8 283.9 L247.1 281.4 L243.4 278.4 L241.0 275.3M295.2 286.3 L299.5 285.7 L303.2 285.1 L306.8 283.5 L309.3 284.7 L311.7 286.9 L314.1 288.1 L317.2 288.8 L319.0 287.5 L320.8 283.9 L322.7 284.5 L325.1 284.2 L327.6 282.0 L329.4 279.6 L331.2 279.4 L333.0 281.4 L334.9 283.3 L337.9 283.9 L340.4 285.1 L342.2 282.7 L344.0 279.6 L345.2 276.0 L347.1 276.6 L350.1 275.3 L352.5 274.1 L351.9 271.1 L351.3 267.4 L351.3 263.8 L352.5 260.7 L354.4 257.7 L355.6 252.8 L355.6 247.9 L356.8 243.0 L358.6 239.4 L359.9 236.9 L358.0 233.9 L355.6 230.2M436.7 168.9 L437.1 166.5 L437.0 163.7 L438.1 161.3 L437.6 158.9 L437.6 158.0M513.8 158.9 L511.4 160.8 L509.0 162.7 L506.7 163.7 L503.8 165.1 L500.0 166.5 L496.2 168.2 L494.3 167.0 L491.4 169.2 L488.6 169.9 L485.7 170.3 L482.9 169.2 L480.0 168.2 L477.1 167.5 L474.3 168.9 L471.9 171.3 L469.5 175.1 L469.0 178.0 L466.7 181.8 L464.3 185.6 L461.9 186.5 L460.0 187.5 L457.1 188.0 L454.3 188.4 L452.4 189.9 L451.0 192.7 L451.4 195.1 L451.9 198.0 L453.1 199.9 L453.3 203.7 L453.8 206.5 L452.9 208.9 L451.9 211.8 L452.9 214.1M626.5 291.5 L629.0 291.0 L632.0 289.0 L635.0 287.5 L637.5 289.0 L639.5 287.5 L642.0 288.5 L644.5 291.0M644.4 290.9 L651.0 291.8 L655.5 292.9 L658.8 289.8 L665.4 287.4 L670.9 286.5 L676.5 285.2 L680.3 284.5 L681.4 282.6 L684.7 281.2 L687.5 281.8 L690.8 280.4 L694.1 280.4 L697.4 282.6 L700.8 283.4 L704.1 282.6 L707.4 280.4 L710.2 281.9 L712.9 283.2 L713.1 286.5 L711.8 289.8 L712.4 294.2 L715.1 297.6 L717.3 301.4 L720.6 305.3 L725.1 308.6 L731.7 309.5 L737.2 309.2 L740.5 307.5 L741.6 304.2 L742.7 300.3 L741.1 296.5 L740.0 292.0 L737.2 289.8 L734.5 287.1 L732.2 283.2 L731.1 279.9 L728.4 277.7 L726.7 276.0 L727.3 273.8 L728.9 273.0M529.0 434.0 L530.8 435.2 L532.6 433.4 L535.0 431.0 L538.0 429.2 L541.6 428.0 L544.6 428.6 L547.6 430.4 L548.8 432.8 L550.6 435.2 L553.6 437.0 L557.2 438.8 L560.8 440.6 L563.2 442.4 L565.6 444.8 L568.0 447.2 L570.4 448.4M519.5 562.0 L522.0 562.5 L524.0 565.0 L525.5 567.5 L526.5 569.0 L529.0 570.0 L532.0 571.5 L533.0 573.5 L534.0 576.0 L534.5 578.0M536.0 582.5 L535.0 585.0 L533.0 587.0 L532.5 590.0 L533.0 593.0 L530.0 594.0 L527.0 595.5 L525.0 598.0 L523.5 603.0M523.6 618.6 L522.9 615.0 L520.7 610.7 L518.6 607.1 L520.0 604.3 L522.9 601.4 L525.7 597.9 L528.6 594.3M560.0 597.9 L554.3 599.3 L550.0 600.7 L546.4 602.9 L543.6 606.4 L540.7 610.0 L538.6 612.9 L537.1 616.4 L535.7 620.7 L535.0 624.3 L534.3 627.9 L532.1 632.1 L530.0 635.7 L528.6 637.9M526.4 642.1 L524.3 646.4 L522.9 652.1M616.6 185.3 L613.7 187.6 L612.0 189.6 L609.7 191.9 L607.4 194.4 L605.1 196.7 L602.3 199.0 L601.1 201.3 L598.9 203.0 L596.6 204.1 L594.3 205.9 L592.6 208.1 L589.7 209.3 L586.9 210.1 L584.6 209.9 L582.3 209.0 L579.4 209.0 L576.6 210.1 L574.6 211.9 L573.4 214.1 L572.0 215.3 L570.3 215.3 L568.6 214.1 L568.9 211.9 L569.4 209.6' fill='none' stroke='#5050ff' stroke-width='0.9' stroke-linejoin='round'/>
<path d='M367.9 159.5 L368.7 164.4 L372.8 166.9 L377.8 169.4 L381.9 170.6 L386.1 171.9 L388.6 174.4 L387.4 177.7 L388.6 181.8 L390.2 185.1 L391.9 187.6 L387.7 187.6 L385.2 189.2 L383.6 192.6 L382.8 196.7 L379.5 200.0 L377.0 203.3 L376.1 206.6 L377.0 209.9 L379.5 212.4 L381.9 214.1 L378.6 216.5 L377.8 219.8 L380.3 223.1 L382.8 227.3 L386.1 233.1 L390.2 233.9 L394.3 236.4 L399.3 238.0 L404.3 241.3 L409.2 243.8 L413.4 245.5 L416.7 246.3 L419.1 244.6 L424.1 243.8 L429.1 243.0 L433.2 239.7M433.6 239.5 L435.4 239.9 L435.6 241.7 L434.5 244.0 L435.9 246.3 L438.2 249.0 L438.6 251.7 L437.3 253.5 L435.9 255.3 L435.0 257.6 L432.7 259.4 L430.0 262.1M426.6 264.5 L424.1 269.5 L424.1 274.4 L425.8 279.4 L427.1 281.0' fill='none' stroke='#555' stroke-width='0.9' stroke-linejoin='round'/>
<ellipse cx='307.0' cy='348.2' rx='1.7' ry='1.0' fill='#000'/>
<ellipse cx='308.2' cy='352.0' rx='1.8' ry='0.9' fill='#000'/>
<path d='M241.5 319.2 H244.8M242.2 322.6 V325.2' stroke='#000' stroke-width='1.2' fill='none'/>
<path d='M416.0 286.3 L415.7 284.4 L416.4 282.7 L417.6 282.1 L418.8 282.5 L418.9 283.7 L418.3 284.9 L417.9 285.8' fill='none' stroke='#000' stroke-width='0.9'/>
<path d='M348.4 203.1 L343.1 204.0 L338.9 205.3 L336.0 207.1 L334.1 209.6 L337.3 210.6 L341.4 211.4 L338.1 209.6 L336.5 208.9 L339.4 206.6 L343.9 205.1 L348.4 203.8Z' fill='#000050' stroke='#000' stroke-width='0.8' stroke-linejoin='round'/>
<path d='M534.0 578.5 L536.0 578.0 L538.5 579.5 L537.5 582.0 L536.0 581.0 L534.5 580.5Z' fill='#000050' stroke='#000' stroke-width='0.8' stroke-linejoin='round'/>
<path d='M525.4 638.6 L527.1 637.6 L530.3 638.1 L529.3 640.0 L527.1 641.0 L526.0 642.9 L525.0 641.4Z' fill='#000050' stroke='#000' stroke-width='0.8' stroke-linejoin='round'/>
<path d='M741.4 400.6 L742.0 397.8 L743.6 395.4 L746.0 394.6 L748.8 394.8 L752.0 395.6 L752.0 405.8 L748.4 406.2 L746.0 405.4 L743.6 403.4 L742.0 401.8Z' fill='#0000ff' stroke='#000' stroke-width='1.1'/>
<path d='M692.4 411.6 L693.6 411.2 L695.8 414.0 L695.2 414.8 L692.8 415.6 L692.0 415.2Z' fill='#0000e0' stroke='#000' stroke-width='0.9'/>
</g>
<path d='M277.40 156.81V652.30M313.90 156.81V652.30M350.40 156.81V652.30M386.90 156.81V652.30M423.40 156.81V652.30M459.90 156.81V652.30M496.40 156.81V652.30M532.90 156.81V652.30M569.40 156.81V652.30M605.90 156.81V652.30M642.40 156.81V652.30M678.90 156.81V652.30M715.40 156.81V652.30M240.90 652.30H752.00M240.90 604.48H752.00M240.90 556.30H752.00M240.90 507.75H752.00M240.90 458.82H752.00M240.90 409.51H752.00M240.90 359.81H752.00M240.90 309.69H752.00M240.90 259.17H752.00M240.90 208.21H752.00' stroke='#000' stroke-opacity='0.55' stroke-width='1.0' stroke-dasharray='2.1 2.1' fill='none'/>
<g clip-path='url(#mc)'>
<path d='M566.6 341.5 L569.5 345.0 L573.8 349.3 L578.0 354.6 L582.3 364.2M590.8 393.6 L591.9 398.4 L593.0 404.8 L593.5 410.1M535.4 522.9 L543.3 525.2 L552.4 528.0 L556.9 523.5 L562.0 517.3' fill='none' stroke='#333' stroke-width='0.7'/>
<path d='M559.5 355.1 L560.6 358.6 L564.3 358.6 L561.3 360.8 L562.5 364.3 L559.5 362.1 L556.5 364.3 L557.7 360.8 L554.7 358.6 L558.4 358.6ZM512.2 396.6 L513.3 400.0 L517.0 400.0 L514.0 402.2 L515.2 405.7 L512.2 403.5 L509.2 405.7 L510.4 402.2 L507.4 400.0 L511.1 400.0ZM534.4 399.6 L535.5 403.0 L539.2 403.0 L536.2 405.2 L537.4 408.7 L534.4 406.5 L531.4 408.7 L532.6 405.2 L529.6 403.0 L533.3 403.0ZM568.5 394.8 L569.6 398.3 L573.3 398.3 L570.3 400.5 L571.5 404.0 L568.5 401.8 L565.5 404.0 L566.7 400.5 L563.7 398.3 L567.4 398.3ZM557.2 409.8 L558.3 413.2 L562.0 413.2 L559.0 415.4 L560.2 418.9 L557.2 416.7 L554.2 418.9 L555.4 415.4 L552.4 413.2 L556.1 413.2ZM540.4 420.6 L541.5 424.0 L545.2 424.0 L542.2 426.2 L543.4 429.7 L540.4 427.5 L537.4 429.7 L538.6 426.2 L535.6 424.0 L539.3 424.0ZM508.0 430.8 L509.1 434.2 L512.8 434.2 L509.8 436.4 L511.0 439.9 L508.0 437.7 L505.0 439.9 L506.2 436.4 L503.2 434.2 L506.9 434.2ZM573.4 442.1 L574.5 445.6 L578.2 445.6 L575.2 447.8 L576.4 451.3 L573.4 449.1 L570.4 451.3 L571.6 447.8 L568.6 445.6 L572.3 445.6ZM537.4 449.9 L538.5 453.4 L542.2 453.4 L539.2 455.6 L540.4 459.1 L537.4 456.9 L534.4 459.1 L535.6 455.6 L532.6 453.4 L536.3 453.4ZM510.4 453.2 L511.5 456.7 L515.2 456.7 L512.2 458.9 L513.4 462.4 L510.4 460.2 L507.4 462.4 L508.6 458.9 L505.6 456.7 L509.3 456.7ZM546.4 468.3 L547.5 471.8 L551.2 471.8 L548.2 474.0 L549.4 477.5 L546.4 475.3 L543.4 477.5 L544.6 474.0 L541.6 471.8 L545.3 471.8ZM546.3 515.1 L547.4 518.5 L551.1 518.5 L548.1 520.7 L549.3 524.2 L546.3 522.0 L543.3 524.2 L544.5 520.7 L541.5 518.5 L545.2 518.5Z' fill='#ffff00' stroke='#008000' stroke-width='1.1' stroke-linejoin='round'/>
</g>
<text x='241.60' y='667.0' font-size='10' text-anchor='middle'>5°E</text>
<text x='278.10' y='667.0' font-size='10' text-anchor='middle'>5.5°E</text>
<text x='314.60' y='667.0' font-size='10' text-anchor='middle'>6°E</text>
<text x='351.10' y='667.0' font-size='10' text-anchor='middle'>6.5°E</text>
<text x='387.60' y='667.0' font-size='10' text-anchor='middle'>7°E</text>
<text x='424.10' y='667.0' font-size='10' text-anchor='middle'>7.5°E</text>
<text x='460.60' y='667.0' font-size='10' text-anchor='middle'>8°E</text>
<text x='497.10' y='667.0' font-size='10' text-anchor='middle'>8.5°E</text>
<text x='533.60' y='667.0' font-size='10' text-anchor='middle'>9°E</text>
<text x='570.10' y='667.0' font-size='10' text-anchor='middle'>9.5°E</text>
<text x='606.60' y='667.0' font-size='10' text-anchor='middle'>10°E</text>
<text x='643.10' y='667.0' font-size='10' text-anchor='middle'>10.5°E</text>
<text x='679.60' y='667.0' font-size='10' text-anchor='middle'>11°E</text>
<text x='716.10' y='667.0' font-size='10' text-anchor='middle'>11.5°E</text>
<text x='234.20' y='654.90' font-size='10' text-anchor='end'>40°N</text>
<text x='234.20' y='607.08' font-size='10' text-anchor='end'>40.5°N</text>
<text x='234.20' y='558.90' font-size='10' text-anchor='end'>41°N</text>
<text x='234.20' y='510.35' font-size='10' text-anchor='end'>41.5°N</text>
<text x='234.20' y='461.42' font-size='10' text-anchor='end'>42°N</text>
<text x='234.20' y='412.11' font-size='10' text-anchor='end'>42.5°N</text>
<text x='234.20' y='362.41' font-size='10' text-anchor='end'>43°N</text>
<text x='234.20' y='312.29' font-size='10' text-anchor='end'>43.5°N</text>
<text x='234.20' y='261.77' font-size='10' text-anchor='end'>44°N</text>
<text x='234.20' y='210.81' font-size='10' text-anchor='end'>44.5°N</text>
<line x1='789.60' x2='789.60' y1='156.81' y2='652.30' stroke='#727272' stroke-width='1'/>
<line x1='825.50' x2='825.50' y1='156.81' y2='652.30' stroke='#727272' stroke-width='1'/>
<text x='752.90' y='667.0' font-size='10.4'>0</text>
<text x='788.80' y='667.0' font-size='10.4'>5</text>
<text x='824.70' y='667.0' font-size='10.4'>10</text>
<text x='860.60' y='667.0' font-size='10.4'>15</text>
<text x='806.5' y='676.5' font-size='11.8'>Km</text>
<text x='772.9' y='84.00' font-size='10.9' text-anchor='middle' fill='#000'>6</text>
<text x='784.30' y='84.00' font-size='10.9' text-anchor='middle' fill='#000'>:</text>
<text x='815.40' y='84.00' font-size='10.9' text-anchor='middle' fill='#000'>827</text>
<text x='772.9' y='93.90' font-size='10.9' text-anchor='middle' fill='#f00'>7</text>
<text x='784.30' y='93.90' font-size='10.9' text-anchor='middle' fill='#f00'>:</text>
<text x='815.40' y='93.90' font-size='10.9' text-anchor='middle' fill='#f00'>22</text>
<text x='772.9' y='104.40' font-size='10.9' text-anchor='middle' fill='#000'>8</text>
<text x='784.30' y='104.40' font-size='10.9' text-anchor='middle' fill='#000'>:</text>
<text x='815.40' y='104.40' font-size='10.9' text-anchor='middle' fill='#000'>3</text>
<text x='772.9' y='114.90' font-size='10.9' text-anchor='middle' fill='#000'>9</text>
<text x='784.30' y='114.90' font-size='10.9' text-anchor='middle' fill='#000'>:</text>
<text x='815.40' y='114.90' font-size='10.9' text-anchor='middle' fill='#000'>0</text>
<text x='772.9' y='125.60' font-size='10.9' text-anchor='middle' fill='#000'>10</text>
<text x='787.70' y='125.60' font-size='10.9' text-anchor='middle' fill='#000'>:</text>
<text x='818.80' y='125.60' font-size='10.9' text-anchor='middle' fill='#000'>0</text>
<text x='772.9' y='135.70' font-size='10.9' text-anchor='middle' fill='#000'>11</text>
<text x='787.70' y='135.70' font-size='10.9' text-anchor='middle' fill='#000'>:</text>
<text x='818.80' y='135.70' font-size='10.9' text-anchor='middle' fill='#000'>0</text>
<text x='772.9' y='145.80' font-size='10.9' text-anchor='middle' fill='#000'>12</text>
<text x='787.70' y='145.80' font-size='10.9' text-anchor='middle' fill='#000'>:</text>
<text x='818.80' y='145.80' font-size='10.9' text-anchor='middle' fill='#000'>0</text>
<g fill='#4c4cff'>
<circle cx='564.8' cy='125.5' r='0.95'/>
<circle cx='565.6' cy='124.2' r='0.95'/>
<circle cx='566.3' cy='126.4' r='0.95'/>
<circle cx='566.8' cy='123.6' r='0.95'/>
<circle cx='567.4' cy='125.0' r='0.95'/>
<circle cx='568.0' cy='123.2' r='0.95'/>
<circle cx='568.6' cy='124.9' r='0.95'/>
<circle cx='569.3' cy='123.5' r='0.95'/>
<circle cx='570.0' cy='122.6' r='0.95'/>
<circle cx='570.8' cy='122.0' r='0.95'/>
<circle cx='571.6' cy='121.4' r='0.95'/>
<circle cx='572.5' cy='120.7' r='0.95'/>
<circle cx='576.4' cy='117.1' r='0.95'/>
<circle cx='576.1' cy='121.0' r='0.95'/>
<circle cx='576.1' cy='122.3' r='0.95'/>
<circle cx='575.9' cy='125.3' r='0.95'/>
<circle cx='569.8' cy='134.2' r='0.95'/>
<circle cx='565.2' cy='127.0' r='0.95'/>
<circle cx='567.0' cy='127.2' r='0.95'/>
<circle cx='775.6' cy='372.0' r='0.95'/>
<circle cx='785.0' cy='377.4' r='0.95'/>
<circle cx='794.0' cy='377.0' r='0.95'/>
<circle cx='788.0' cy='377.6' r='0.95'/>
<circle cx='789.5' cy='377.8' r='0.95'/>
<circle cx='790.3' cy='376.9' r='0.95'/>
<path d='M783.6 371.2 L790.2 372.6' stroke='#4c4cff' stroke-width='2.4' stroke-linecap='round'/>
</g>
<g stroke='#000' fill='none' stroke-linecap='square'>
<path d='M242.05 53.95 H861.9' stroke-width='2.1'/>
<path d='M242.05 53.95 V157' stroke-width='2.1'/>
<path d='M241.5 157 V653.15' stroke-width='1.2'/>
<path d='M241.0 157.5 H862.9' stroke-width='3.2' stroke-linecap='butt'/>
<path d='M752.45 54.5 V652.4' stroke-width='3.1'/>
<path d='M861.9 53.95 V652.8' stroke-width='2'/>
<path d='M241.5 653.4 H752' stroke-width='1.2'/>
<path d='M752 652.85 H861.9' stroke-width='2'/>
</g>
<defs><linearGradient id='cb' x1='0' x2='1' y1='0' y2='0'><stop offset='0.00000' stop-color='rgb(124,5,255)'/><stop offset='0.01250' stop-color='rgb(124,5,255)'/><stop offset='0.01250' stop-color='rgb(118,15,255)'/><stop offset='0.02500' stop-color='rgb(118,15,255)'/><stop offset='0.02500' stop-color='rgb(112,25,255)'/><stop offset='0.03750' stop-color='rgb(112,25,255)'/><stop offset='0.03750' stop-color='rgb(105,35,254)'/><stop offset='0.05000' stop-color='rgb(105,35,254)'/><stop offset='0.05000' stop-color='rgb(99,45,254)'/><stop offset='0.06250' stop-color='rgb(99,45,254)'/><stop offset='0.06250' stop-color='rgb(92,55,254)'/><stop offset='0.07500' stop-color='rgb(92,55,254)'/><stop offset='0.07500' stop-color='rgb(86,64,253)'/><stop offset='0.08750' stop-color='rgb(86,64,253)'/><stop offset='0.08750' stop-color='rgb(80,74,252)'/><stop offset='0.10000' stop-color='rgb(80,74,252)'/><stop offset='0.10000' stop-color='rgb(73,84,251)'/><stop offset='0.11250' stop-color='rgb(73,84,251)'/><stop offset='0.11250' stop-color='rgb(67,93,251)'/><stop offset='0.12500' stop-color='rgb(67,93,251)'/><stop offset='0.12500' stop-color='rgb(61,102,250)'/><stop offset='0.13750' stop-color='rgb(61,102,250)'/><stop offset='0.13750' stop-color='rgb(54,111,249)'/><stop offset='0.15000' stop-color='rgb(54,111,249)'/><stop offset='0.15000' stop-color='rgb(48,120,247)'/><stop offset='0.16250' stop-color='rgb(48,120,247)'/><stop offset='0.16250' stop-color='rgb(41,129,246)'/><stop offset='0.17500' stop-color='rgb(41,129,246)'/><stop offset='0.17500' stop-color='rgb(35,137,245)'/><stop offset='0.18750' stop-color='rgb(35,137,245)'/><stop offset='0.18750' stop-color='rgb(29,146,243)'/><stop offset='0.20000' stop-color='rgb(29,146,243)'/><stop offset='0.20000' stop-color='rgb(22,154,242)'/><stop offset='0.21250' stop-color='rgb(22,154,242)'/><stop offset='0.21250' stop-color='rgb(16,162,240)'/><stop offset='0.22500' stop-color='rgb(16,162,240)'/><stop offset='0.22500' stop-color='rgb(10,169,238)'/><stop offset='0.23750' stop-color='rgb(10,169,238)'/><stop offset='0.23750' stop-color='rgb(3,177,237)'/><stop offset='0.25000' stop-color='rgb(3,177,237)'/><stop offset='0.25000' stop-color='rgb(3,184,235)'/><stop offset='0.26250' stop-color='rgb(3,184,235)'/><stop offset='0.26250' stop-color='rgb(10,191,233)'/><stop offset='0.27500' stop-color='rgb(10,191,233)'/><stop offset='0.27500' stop-color='rgb(16,197,231)'/><stop offset='0.28750' stop-color='rgb(16,197,231)'/><stop offset='0.28750' stop-color='rgb(22,203,228)'/><stop offset='0.30000' stop-color='rgb(22,203,228)'/><stop offset='0.30000' stop-color='rgb(29,209,226)'/><stop offset='0.31250' stop-color='rgb(29,209,226)'/><stop offset='0.31250' stop-color='rgb(35,215,224)'/><stop offset='0.32500' stop-color='rgb(35,215,224)'/><stop offset='0.32500' stop-color='rgb(41,220,221)'/><stop offset='0.33750' stop-color='rgb(41,220,221)'/><stop offset='0.33750' stop-color='rgb(48,225,219)'/><stop offset='0.35000' stop-color='rgb(48,225,219)'/><stop offset='0.35000' stop-color='rgb(54,229,216)'/><stop offset='0.36250' stop-color='rgb(54,229,216)'/><stop offset='0.36250' stop-color='rgb(61,234,213)'/><stop offset='0.37500' stop-color='rgb(61,234,213)'/><stop offset='0.37500' stop-color='rgb(67,237,211)'/><stop offset='0.38750' stop-color='rgb(67,237,211)'/><stop offset='0.38750' stop-color='rgb(73,241,208)'/><stop offset='0.40000' stop-color='rgb(73,241,208)'/><stop offset='0.40000' stop-color='rgb(80,244,205)'/><stop offset='0.41250' stop-color='rgb(80,244,205)'/><stop offset='0.41250' stop-color='rgb(86,247,202)'/><stop offset='0.42500' stop-color='rgb(86,247,202)'/><stop offset='0.42500' stop-color='rgb(92,249,199)'/><stop offset='0.43750' stop-color='rgb(92,249,199)'/><stop offset='0.43750' stop-color='rgb(99,251,196)'/><stop offset='0.45000' stop-color='rgb(99,251,196)'/><stop offset='0.45000' stop-color='rgb(105,253,192)'/><stop offset='0.46250' stop-color='rgb(105,253,192)'/><stop offset='0.46250' stop-color='rgb(112,254,189)'/><stop offset='0.47500' stop-color='rgb(112,254,189)'/><stop offset='0.47500' stop-color='rgb(118,255,186)'/><stop offset='0.48750' stop-color='rgb(118,255,186)'/><stop offset='0.48750' stop-color='rgb(124,255,182)'/><stop offset='0.50000' stop-color='rgb(124,255,182)'/><stop offset='0.50000' stop-color='rgb(131,255,179)'/><stop offset='0.51250' stop-color='rgb(131,255,179)'/><stop offset='0.51250' stop-color='rgb(137,255,175)'/><stop offset='0.52500' stop-color='rgb(137,255,175)'/><stop offset='0.52500' stop-color='rgb(143,254,171)'/><stop offset='0.53750' stop-color='rgb(143,254,171)'/><stop offset='0.53750' stop-color='rgb(150,253,168)'/><stop offset='0.55000' stop-color='rgb(150,253,168)'/><stop offset='0.55000' stop-color='rgb(156,251,164)'/><stop offset='0.56250' stop-color='rgb(156,251,164)'/><stop offset='0.56250' stop-color='rgb(163,249,160)'/><stop offset='0.57500' stop-color='rgb(163,249,160)'/><stop offset='0.57500' stop-color='rgb(169,247,156)'/><stop offset='0.58750' stop-color='rgb(169,247,156)'/><stop offset='0.58750' stop-color='rgb(175,244,152)'/><stop offset='0.60000' stop-color='rgb(175,244,152)'/><stop offset='0.60000' stop-color='rgb(182,241,148)'/><stop offset='0.61250' stop-color='rgb(182,241,148)'/><stop offset='0.61250' stop-color='rgb(188,237,144)'/><stop offset='0.62500' stop-color='rgb(188,237,144)'/><stop offset='0.62500' stop-color='rgb(194,234,140)'/><stop offset='0.63750' stop-color='rgb(194,234,140)'/><stop offset='0.63750' stop-color='rgb(201,229,135)'/><stop offset='0.65000' stop-color='rgb(201,229,135)'/><stop offset='0.65000' stop-color='rgb(207,225,131)'/><stop offset='0.66250' stop-color='rgb(207,225,131)'/><stop offset='0.66250' stop-color='rgb(214,220,127)'/><stop offset='0.67500' stop-color='rgb(214,220,127)'/><stop offset='0.67500' stop-color='rgb(220,215,122)'/><stop offset='0.68750' stop-color='rgb(220,215,122)'/><stop offset='0.68750' stop-color='rgb(226,209,118)'/><stop offset='0.70000' stop-color='rgb(226,209,118)'/><stop offset='0.70000' stop-color='rgb(233,203,114)'/><stop offset='0.71250' stop-color='rgb(233,203,114)'/><stop offset='0.71250' stop-color='rgb(239,197,109)'/><stop offset='0.72500' stop-color='rgb(239,197,109)'/><stop offset='0.72500' stop-color='rgb(245,191,104)'/><stop offset='0.73750' stop-color='rgb(245,191,104)'/><stop offset='0.73750' stop-color='rgb(252,184,100)'/><stop offset='0.75000' stop-color='rgb(252,184,100)'/><stop offset='0.75000' stop-color='rgb(255,177,95)'/><stop offset='0.76250' stop-color='rgb(255,177,95)'/><stop offset='0.76250' stop-color='rgb(255,169,91)'/><stop offset='0.77500' stop-color='rgb(255,169,91)'/><stop offset='0.77500' stop-color='rgb(255,162,86)'/><stop offset='0.78750' stop-color='rgb(255,162,86)'/><stop offset='0.78750' stop-color='rgb(255,154,81)'/><stop offset='0.80000' stop-color='rgb(255,154,81)'/><stop offset='0.80000' stop-color='rgb(255,146,76)'/><stop offset='0.81250' stop-color='rgb(255,146,76)'/><stop offset='0.81250' stop-color='rgb(255,137,72)'/><stop offset='0.82500' stop-color='rgb(255,137,72)'/><stop offset='0.82500' stop-color='rgb(255,129,67)'/><stop offset='0.83750' stop-color='rgb(255,129,67)'/><stop offset='0.83750' stop-color='rgb(255,120,62)'/><stop offset='0.85000' stop-color='rgb(255,120,62)'/><stop offset='0.85000' stop-color='rgb(255,111,57)'/><stop offset='0.86250' stop-color='rgb(255,111,57)'/><stop offset='0.86250' stop-color='rgb(255,102,52)'/><stop offset='0.87500' stop-color='rgb(255,102,52)'/><stop offset='0.87500' stop-color='rgb(255,93,47)'/><stop offset='0.88750' stop-color='rgb(255,93,47)'/><stop offset='0.88750' stop-color='rgb(255,84,42)'/><stop offset='0.90000' stop-color='rgb(255,84,42)'/><stop offset='0.90000' stop-color='rgb(255,74,37)'/><stop offset='0.91250' stop-color='rgb(255,74,37)'/><stop offset='0.91250' stop-color='rgb(255,64,32)'/><stop offset='0.92500' stop-color='rgb(255,64,32)'/><stop offset='0.92500' stop-color='rgb(255,55,27)'/><stop offset='0.93750' stop-color='rgb(255,55,27)'/><stop offset='0.93750' stop-color='rgb(255,45,23)'/><stop offset='0.95000' stop-color='rgb(255,45,23)'/><stop offset='0.95000' stop-color='rgb(255,35,18)'/><stop offset='0.96250' stop-color='rgb(255,35,18)'/><stop offset='0.96250' stop-color='rgb(255,25,13)'/><stop offset='0.97500' stop-color='rgb(255,25,13)'/><stop offset='0.97500' stop-color='rgb(255,15,8)'/><stop offset='0.98750' stop-color='rgb(255,15,8)'/><stop offset='0.98750' stop-color='rgb(255,5,3)'/><stop offset='1.00000' stop-color='rgb(255,5,3)'/></linearGradient></defs>
<rect x='158.50' y='690.50' width='787.00' height='38.00' fill='url(#cb)'/>
<rect x='158.50' y='690.50' width='787.00' height='38.00' fill='none' stroke='#000' stroke-width='1'/>
<line x1='158.50' x2='158.50' y1='728.50' y2='732.70' stroke='#000' stroke-width='1'/>
<text x='158.10' y='742.7' font-size='10.4' text-anchor='middle'>0</text>
<line x1='315.90' x2='315.90' y1='728.50' y2='732.70' stroke='#000' stroke-width='1'/>
<text x='315.50' y='742.7' font-size='10.4' text-anchor='middle'>2</text>
<line x1='473.30' x2='473.30' y1='728.50' y2='732.70' stroke='#000' stroke-width='1'/>
<text x='472.90' y='742.7' font-size='10.4' text-anchor='middle'>4</text>
<line x1='630.70' x2='630.70' y1='728.50' y2='732.70' stroke='#000' stroke-width='1'/>
<text x='630.30' y='742.7' font-size='10.4' text-anchor='middle'>6</text>
<line x1='788.10' x2='788.10' y1='728.50' y2='732.70' stroke='#000' stroke-width='1'/>
<text x='787.70' y='742.7' font-size='10.4' text-anchor='middle'>8</text>
<line x1='945.50' x2='945.50' y1='728.50' y2='732.70' stroke='#000' stroke-width='1'/>
<text x='945.10' y='742.7' font-size='10.4' text-anchor='middle'>10</text>
<text x='557.4' y='719' font-size='18.7' text-anchor='middle'>from 08:10:00 to 08:19:59</text>
</svg></body></html>
